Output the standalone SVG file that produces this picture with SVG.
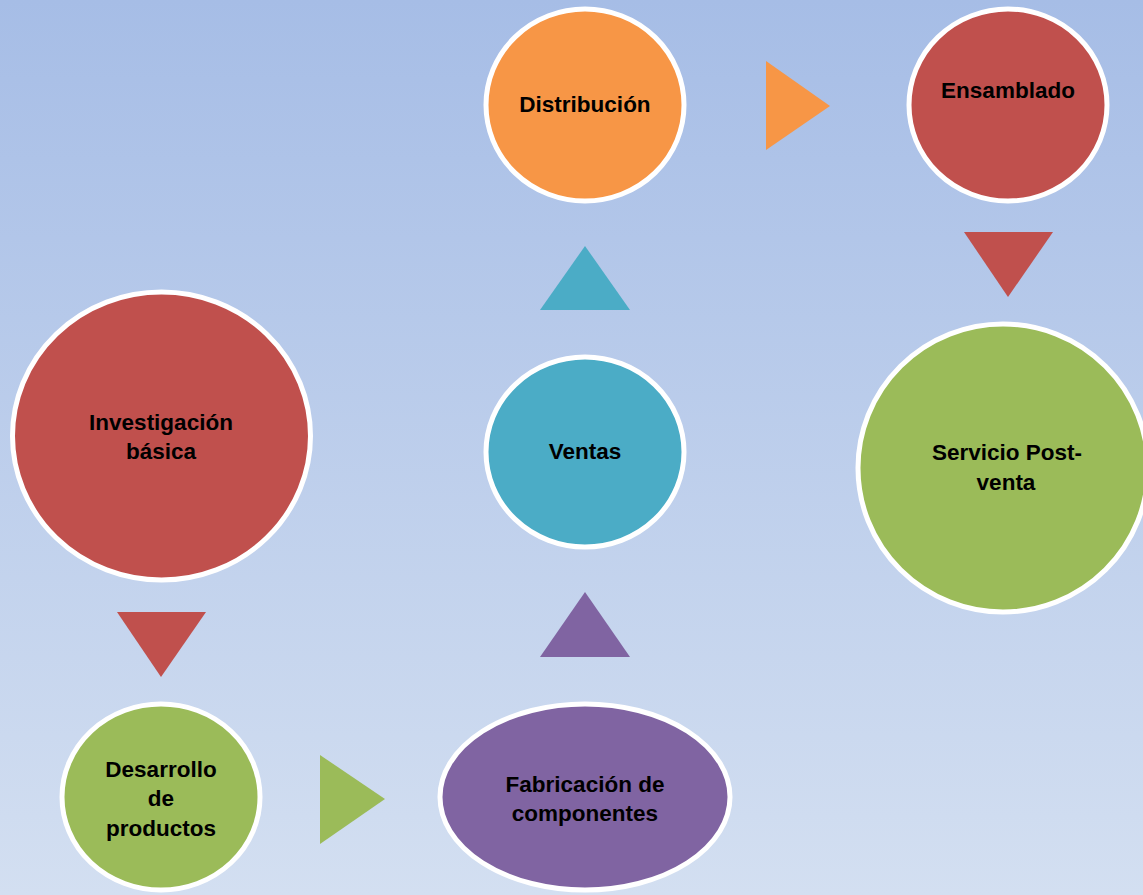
<svg xmlns="http://www.w3.org/2000/svg" width="1143" height="895" viewBox="0 0 1143 895">
  <defs>
    <linearGradient id="bg" x1="0" y1="0" x2="0" y2="1">
      <stop offset="0" stop-color="#a6bde6"/>
      <stop offset="1" stop-color="#d3dff1"/>
    </linearGradient>
  </defs>
  <style>
    .node { stroke: #ffffff; stroke-width: 5; }
    .label { font-family: "Liberation Sans", Arial, sans-serif; font-weight: bold; font-size: 22.5px; fill: #000000; text-anchor: middle; }
    .red { fill: #c0504d; }
    .orange { fill: #f79646; }
    .teal { fill: #4bacc6; }
    .purple { fill: #8064a2; }
    .green { fill: #9bbb59; }
  </style>

  <rect x="0" y="0" width="1143" height="895" fill="url(#bg)"/>

  <!-- flow arrows between stages -->
  <g id="connectors">
    <polygon class="red" points="117,612 206,612 161,677"/>
    <polygon class="green" points="320,755 320,844 385,799"/>
    <polygon class="purple" points="540,657 630,657 585,592"/>
    <polygon class="teal" points="540,310 630,310 585,246"/>
    <polygon class="orange" points="766,61 766,150 830,106"/>
    <polygon class="red" points="964,232 1053,232 1008,297"/>
  </g>

  <g id="investigacion">
    <ellipse class="node red" cx="161.5" cy="436" rx="149" ry="144"/>
    <text class="label" x="161" y="430">Investigación</text>
    <text class="label" x="161" y="459">básica</text>
  </g>

  <g id="desarrollo">
    <ellipse class="node green" cx="161" cy="797" rx="99" ry="93"/>
    <text class="label" x="161" y="777">Desarrollo</text>
    <text class="label" x="161" y="806">de</text>
    <text class="label" x="161" y="836">productos</text>
  </g>

  <g id="fabricacion">
    <ellipse class="node purple" cx="585" cy="797" rx="145" ry="93"/>
    <text class="label" x="585" y="792">Fabricación de</text>
    <text class="label" x="585" y="821">componentes</text>
  </g>

  <g id="ventas">
    <ellipse class="node teal" cx="585" cy="452" rx="99" ry="95"/>
    <text class="label" x="585" y="459">Ventas</text>
  </g>

  <g id="distribucion">
    <ellipse class="node orange" cx="585" cy="105" rx="99" ry="96"/>
    <text class="label" x="585" y="112">Distribución</text>
  </g>

  <g id="ensamblado">
    <ellipse class="node red" cx="1008" cy="105" rx="99" ry="96"/>
    <text class="label" x="1008" y="98">Ensamblado</text>
  </g>

  <g id="servicio">
    <ellipse class="node green" cx="1003" cy="468" rx="145" ry="144"/>
    <text class="label" x="1007" y="460">Servicio Post-</text>
    <text class="label" x="1006" y="490">venta</text>
  </g>
</svg>
